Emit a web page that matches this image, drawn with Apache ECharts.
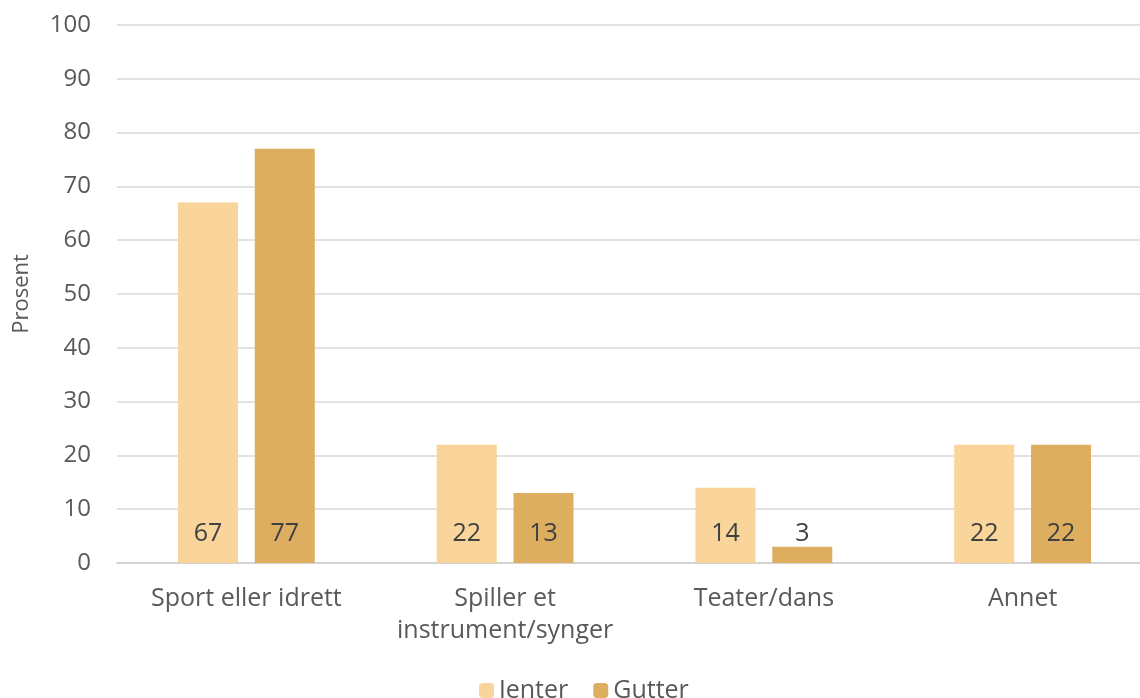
<!DOCTYPE html>
<html><head><meta charset="utf-8">
<script src="https://cdn.jsdelivr.net/npm/echarts@6/dist/echarts.min.js"></script>
<style>html,body{margin:0;padding:0;background:#fff}#c{width:1140px;height:698px}</style>
</head><body><div id="c"></div>
<script>
const categories = ['Sport eller idrett', 'Spiller et\ninstrument/synger', 'Teater/dans', 'Annet'];
const jenter = [67, 22, 14, 22];
const gutter = [77, 13, 3, 22];
const yTicks = [0, 10, 20, 30, 40, 50, 60, 70, 80, 90, 100];
const font = '"Open Sans", "Noto Sans", sans-serif';
const chart = echarts.init(document.getElementById('c'), null, {renderer: 'canvas'});
const lbl = {show: true, position: 'insideBottom', distance: 17, fontSize: 25, color: '#404040', fontFamily: font};
chart.setOption({
  animation: false,
  textStyle: {fontFamily: font},
  grid: {left: 117, right: -12, top: 25, bottom: 135, containLabel: false, outerBoundsMode: 'none'},
  legend: {left: 474, top: 673, itemWidth: 15, itemHeight: 15, itemGap: 25,
    textStyle: {fontSize: 25, color: '#595959', fontFamily: font},
    data: ['Jenter', 'Gutter']},
  xAxis: {type: 'category', data: categories,
    axisLine: {lineStyle: {color: '#d0d0d0', width: 1.5}}, axisTick: {show: false},
    axisLabel: {interval: 0, fontSize: 25, color: '#595959', margin: 20, lineHeight: 32, fontFamily: font}},
  yAxis: {type: 'value', min: yTicks[0], max: yTicks[yTicks.length - 1], interval: 10,
    name: 'Prosent', nameLocation: 'middle', nameGap: 84, nameRotate: 90,
    nameTextStyle: {fontSize: 22, color: '#595959', fontFamily: font},
    axisLine: {show: false}, axisTick: {show: false},
    splitLine: {lineStyle: {color: '#d9d9d9', width: 1.5}},
    axisLabel: {fontSize: 24, color: '#595959', margin: 26, fontFamily: font}},
  series: [
    {name: 'Jenter', type: 'bar', data: jenter, barWidth: 60, barGap: '28%',
     itemStyle: {color: '#F9D49B'}, label: lbl},
    {name: 'Gutter', type: 'bar', data: gutter, barWidth: 60,
     itemStyle: {color: '#DDAE5F'}, label: lbl}
  ]
});
</script></body></html>
